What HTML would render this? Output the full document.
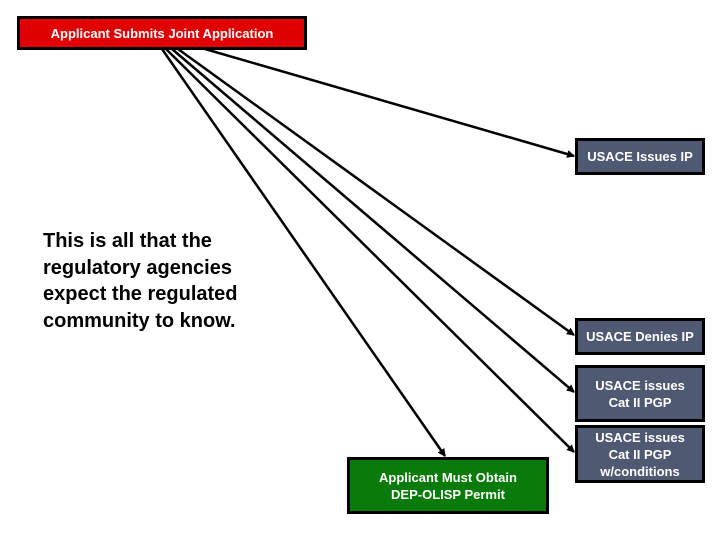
<!DOCTYPE html>
<html><head><style>
body{margin:0;width:720px;height:540px;background:#fff;position:relative;overflow:hidden;font-family:"Liberation Sans",sans-serif;}
.b{position:absolute;box-sizing:border-box;border:3px solid #000;color:#fff;font-weight:bold;font-size:13px;display:flex;align-items:center;justify-content:center;text-align:center;line-height:17px;}
.g{background:#4f5a72;}
</style></head><body>
<svg width="720" height="540" style="position:absolute;left:0;top:0">
<defs><marker id="a" markerWidth="8" markerHeight="8" refX="7" refY="4" orient="auto" markerUnits="userSpaceOnUse"><path d="M0,0 L8,4 L0,8 z" fill="#000"/></marker></defs>
<g stroke="#000" stroke-width="2.5" marker-end="url(#a)">
<line x1="205" y1="49" x2="574" y2="156"/>
<line x1="178" y1="49" x2="574" y2="335"/>
<line x1="172" y1="49" x2="574" y2="392"/>
<line x1="166" y1="49" x2="574" y2="452"/>
<line x1="162" y1="49" x2="445" y2="456"/>
</g>
</svg>
<div class="b" style="left:17px;top:16px;width:290px;height:34px;background:#e00000;">Applicant Submits Joint Application</div>
<div class="b g" style="left:575px;top:138px;width:130px;height:37px;">USACE Issues IP</div>
<div class="b g" style="left:575px;top:318px;width:130px;height:37px;">USACE Denies IP</div>
<div class="b g" style="left:575px;top:365px;width:130px;height:57px;">USACE issues<br>Cat II PGP</div>
<div class="b g" style="left:575px;top:425px;width:130px;height:58px;align-items:flex-start;padding-top:1px;">USACE issues<br>Cat II PGP<br>w/conditions</div>
<div class="b" style="left:347px;top:457px;width:202px;height:57px;background:#0a7a0a;">Applicant Must Obtain<br>DEP-OLISP Permit</div>
<div style="position:absolute;left:43px;top:228px;font-size:20px;font-weight:bold;line-height:26.5px;color:#000;">This is all that the<br>regulatory agencies<br>expect the regulated<br>community to know.</div>
</body></html>
